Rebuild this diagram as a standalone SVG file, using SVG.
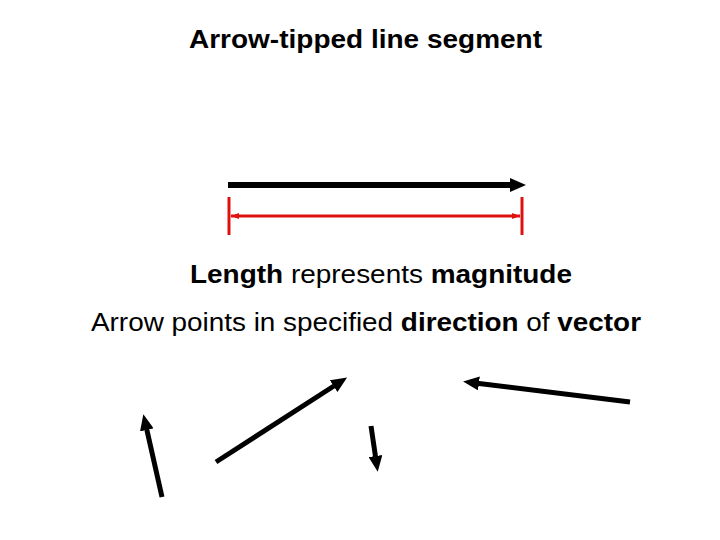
<svg xmlns="http://www.w3.org/2000/svg" width="720" height="540" viewBox="0 0 720 540">
<style>
text{font-family:"Liberation Sans",Arial,sans-serif;fill:#000}
.v{stroke:#000;stroke-width:5;fill:none;marker-end:url(#ah)}
.r{stroke:#e01010;stroke-width:3;fill:none}
</style>
<defs>
<marker id="ah" viewBox="0 0 16 14" refX="4" refY="7" markerWidth="16" markerHeight="14" markerUnits="userSpaceOnUse" orient="auto"><path d="M0,0 L16,7 L0,14 Z" fill="#000"/></marker>
<marker id="rh" viewBox="0 0 8 8" refX="8" refY="4" markerWidth="8" markerHeight="8" markerUnits="userSpaceOnUse" orient="auto-start-reverse"><path d="M0,1 L8,4 L0,7 Z" fill="#e01010"/></marker>
</defs>
<rect width="720" height="540" fill="#fff"/>
<text x="189" y="48" font-size="26" font-weight="bold" textLength="353" lengthAdjust="spacingAndGlyphs">Arrow-tipped line segment</text>
<g id="connectors">
<line class="v" x1="228" y1="185" x2="514" y2="185" style="stroke-width:6"/>
<line class="r" x1="229" y1="197" x2="229" y2="235"/>
<line class="r" x1="522" y1="197" x2="522" y2="235"/>
<line class="r" x1="231" y1="216" x2="520" y2="216" marker-start="url(#rh)" marker-end="url(#rh)"/>
<line class="v" x1="162" y1="497" x2="146" y2="426"/>
<line class="v" x1="216" y1="462" x2="337" y2="384"/>
<line class="v" x1="371" y1="426" x2="376" y2="460"/>
<line class="v" x1="630" y1="402" x2="475" y2="383"/>
</g>
<text x="190" y="283" font-size="26" textLength="382" lengthAdjust="spacingAndGlyphs"><tspan font-weight="bold">Length</tspan> represents <tspan font-weight="bold">magnitude</tspan></text>
<text x="91" y="331" font-size="26" textLength="550" lengthAdjust="spacingAndGlyphs">Arrow points in specified <tspan font-weight="bold">direction</tspan> of <tspan font-weight="bold">vector</tspan></text>
</svg>
